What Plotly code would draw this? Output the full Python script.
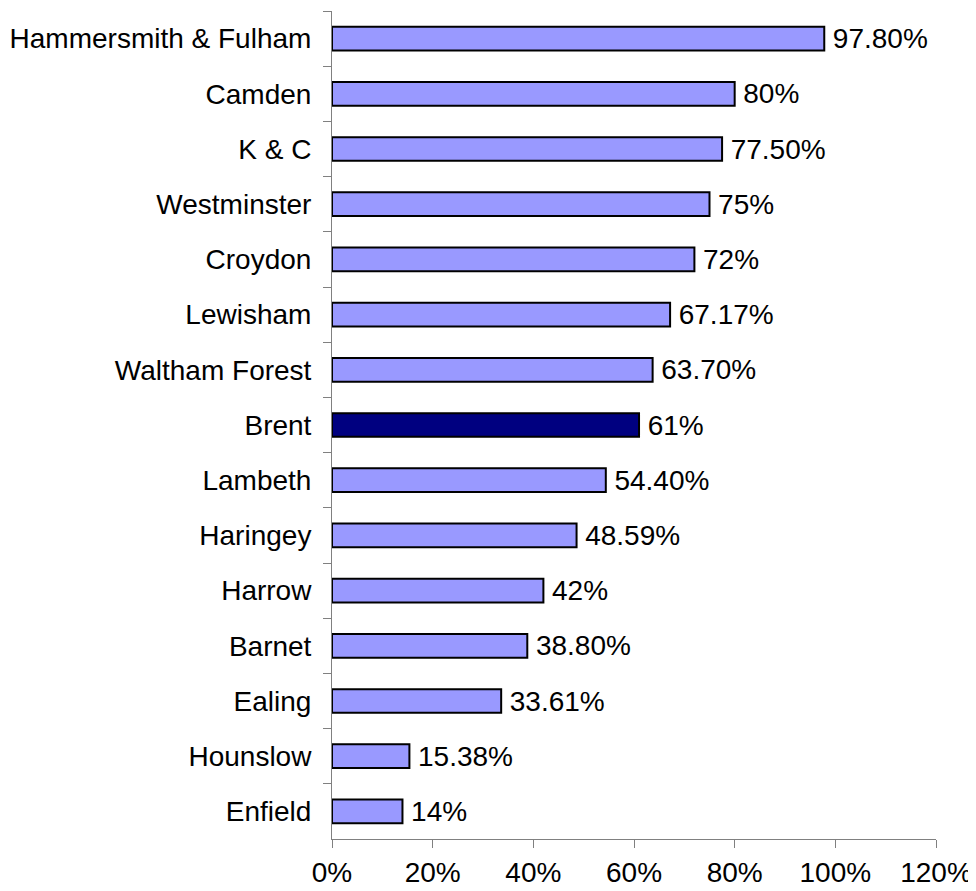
import plotly.graph_objects as go

categories = ["Hammersmith & Fulham", "Camden", "K & C", "Westminster", "Croydon",
              "Lewisham", "Waltham Forest", "Brent", "Lambeth", "Haringey",
              "Harrow", "Barnet", "Ealing", "Hounslow", "Enfield"]
values = [97.8, 80, 77.5, 75, 72, 67.17, 63.7, 61, 54.4, 48.59, 42, 38.8, 33.61, 15.38, 14]
labels = ["97.80%", "80%", "77.50%", "75%", "72%", "67.17%", "63.70%", "61%",
          "54.40%", "48.59%", "42%", "38.80%", "33.61%", "15.38%", "14%"]
highlight = "Brent"
tick_vals = [0, 20, 40, 60, 80, 100, 120]
tick_text = ["0%", "20%", "40%", "60%", "80%", "100%", "120%"]

colors = ["#000080" if c == highlight else "#9999FF" for c in categories]

fig = go.Figure(go.Bar(
    x=values, y=categories, orientation="h",
    marker=dict(color=colors, line=dict(color="black", width=2)),
    text=labels, texttemplate="\u2009%{text}",
    textposition="outside", cliponaxis=False,
    constraintext="none",
    textfont=dict(family="Liberation Sans, Arial", size=28, color="black"),
))

fig.update_layout(
    width=976, height=891,
    margin=dict(l=324, r=48, t=3, b=60, autoexpand=False),
    plot_bgcolor="white", paper_bgcolor="white",
    bargap=0.57,
    showlegend=False,
    font=dict(family="Liberation Sans, Arial", size=28, color="black"),
)
fig.update_xaxes(
    range=[0, 120], tickvals=tick_vals, ticktext=tick_text,
    showgrid=False, zeroline=False, automargin=False,
    showline=True, linecolor="#808080", linewidth=1,
    ticks="outside", ticklen=8, tickcolor="#808080",
    tickfont=dict(size=28),
)
fig.update_yaxes(
    categoryorder="array", categoryarray=categories, autorange="reversed",
    showgrid=False, zeroline=False, automargin=False,
    showline=True, linecolor="#808080", linewidth=1,
    ticks="outside", ticklen=8, tickcolor="#808080", tickson="boundaries",
    ticklabelstandoff=14,
    tickfont=dict(size=28),
)

fig.write_html("out.html")
